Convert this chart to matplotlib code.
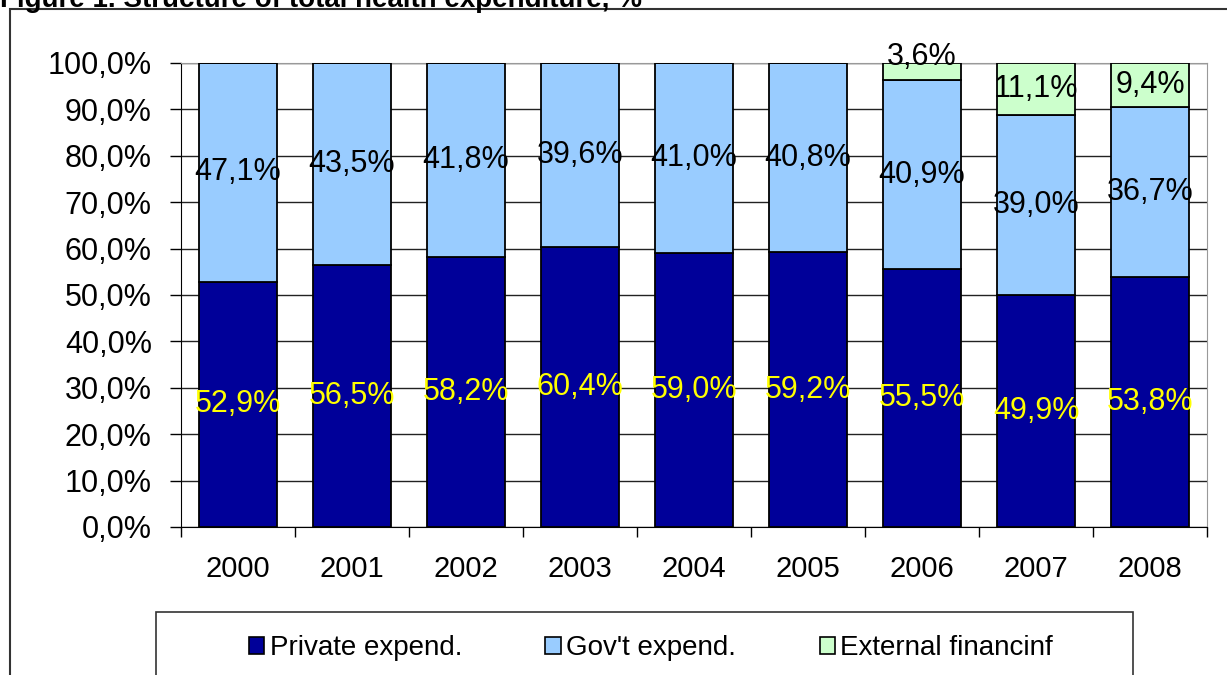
import matplotlib.pyplot as plt
import numpy as np
from matplotlib.patches import Patch, Rectangle
from matplotlib.ticker import FuncFormatter

plt.rcParams['font.family'] = ['Liberation Sans', 'DejaVu Sans']

years = ['2000', '2001', '2002', '2003', '2004', '2005', '2006', '2007', '2008']
private = [52.9, 56.5, 58.2, 60.4, 59.0, 59.2, 55.5, 49.9, 53.8]
government = [47.1, 43.5, 41.8, 39.6, 41.0, 40.8, 40.9, 39.0, 36.7]
external = [0, 0, 0, 0, 0, 0, 3.6, 11.1, 9.4]

series = [
    ("Private expend.", private, "#000099", "#FFFF00"),
    ("Gov't expend.", government, "#99CCFF", "black"),
    ("External financinf", external, "#CCFFCC", "black"),
]

def pct(v):
    return f"{v:.1f}%".replace('.', ',')

fig = plt.figure(figsize=(12.27, 6.75), dpi=100)
W, H = 1227, 675

# outer chart frame (right and bottom edges run off the page)
fig.patches.append(Rectangle((10 / W, -0.1), 1.2, 1.1 - 9 / H, transform=fig.transFigure,
                             fill=False, edgecolor='#333333', lw=1.5))
fig.text(0, 1 - 7 / H, "Figure 1. Structure of total health expenditure, %",
         fontsize=20, fontweight='bold', va='baseline', ha='left')

ax = fig.add_axes([181 / W, 1 - 527 / H, (1207 - 181) / W, (527 - 63) / H])
x = np.arange(len(years))
bottom = np.zeros(len(years))
handles = []
for name, vals, color, tcolor in series:
    vals = np.array(vals)
    ax.bar(x, vals, 0.68, bottom=bottom, color=color, edgecolor='black', lw=1.3, zorder=3)
    for xi, b, v in zip(x, bottom, vals):
        if v <= 0:
            continue
        y = b + v / 2 if v >= 5 else b + v + 1.2
        ax.text(xi, y, pct(v), ha='center', va='center', fontsize=22, color=tcolor,
                zorder=4, clip_on=False)
    bottom = bottom + vals
    handles.append(Patch(facecolor=color, edgecolor='black', lw=1.2, label=name))

ax.set_xlim(-0.5, len(years) - 0.5)
ax.set_ylim(0, 100)
ax.set_yticks(np.arange(0, 101, 10))
ax.yaxis.set_major_formatter(FuncFormatter(lambda v, _: pct(v)))
ax.grid(axis='y', color='#222222', lw=1, zorder=1)
ax.tick_params(axis='y', labelsize=22, length=8, width=1, pad=13, direction='out')

ax.set_xticks(x)
ax.set_xticklabels(years)
ax.set_xticks(np.arange(-0.5, len(years), 1), minor=True)
ax.tick_params(axis='x', which='major', length=0, labelsize=21, pad=20)
ax.tick_params(axis='x', which='minor', length=7, width=1, direction='out')

for side in ['top', 'right']:
    ax.spines[side].set_color('#999999')
for side in ['left', 'bottom']:
    ax.spines[side].set_color('black')

# legend frame
fig.patches.append(Rectangle((156 / W, -0.1), (1133 - 156) / W, 0.1 + (675 - 612) / H,
                             transform=fig.transFigure, fill=False, edgecolor='#333333', lw=1.2))
fig.legend(handles=handles, loc='center', bbox_to_anchor=(651 / W, 1 - 648 / H), ncol=3,
           frameon=False, fontsize=20, handlelength=0.55, handleheight=0.55,
           handletextpad=0.2, columnspacing=3.0)

fig.savefig('out.png', dpi=100)
